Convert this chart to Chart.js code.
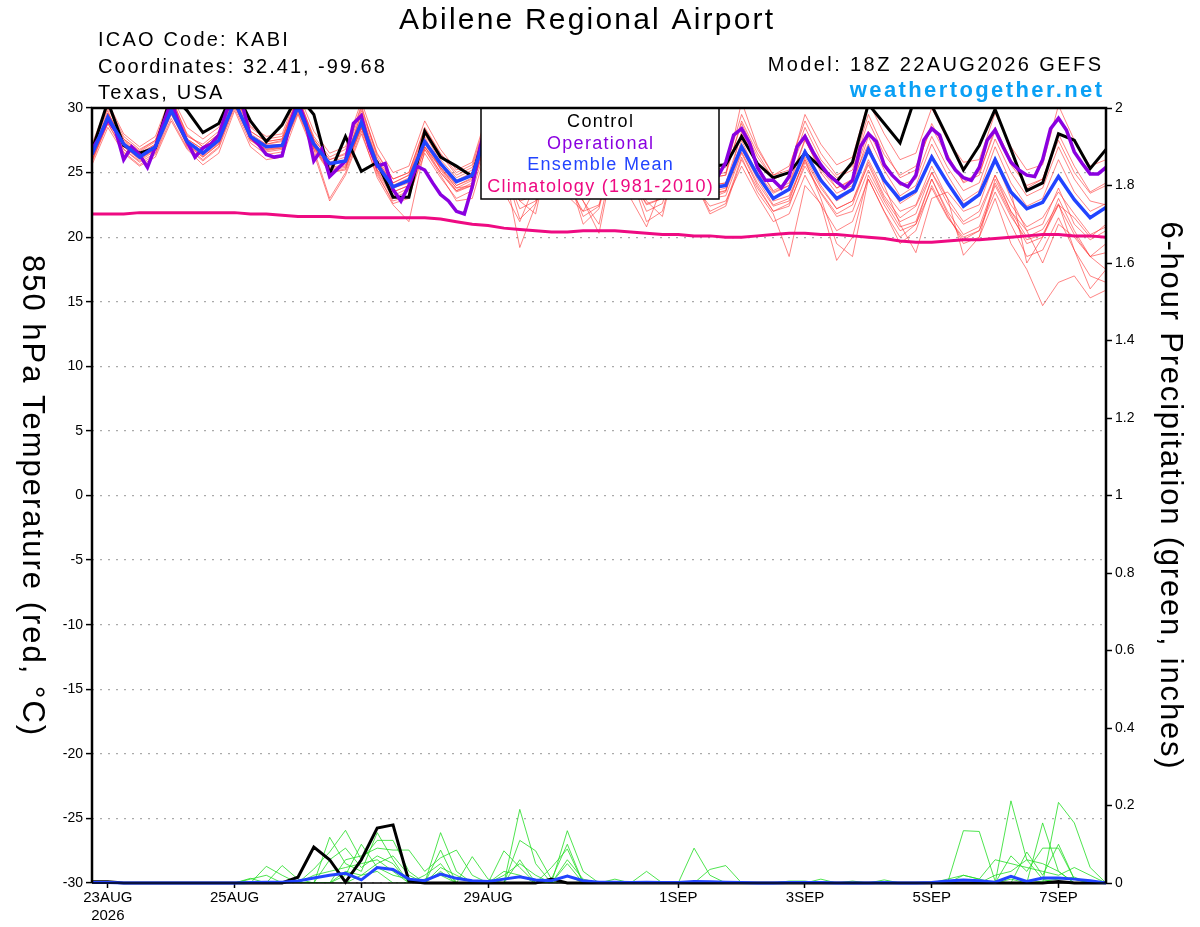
<!DOCTYPE html>
<html>
<head>
<meta charset="utf-8">
<script src="https://cdn.jsdelivr.net/npm/chart.js@4.4.1/dist/chart.umd.min.js"></script>
<style>
html,body{margin:0;padding:0;background:#fff;}
#wrap{width:1200px;height:927px;position:relative;}
</style>
</head>
<body>
<div id="wrap"><canvas id="c" width="1200" height="927"></canvas></div>
<script>
// ---- Data (6-hourly steps from 18Z 22AUG2026; index 1 = 00Z 23AUG) ----
const tickIndex = [1, 9, 17, 25, 37, 45, 53, 61];
const tickLabels = [['23AUG','2026'], '25AUG', '27AUG', '29AUG', '1SEP', '3SEP', '5SEP', '7SEP'];

const controlTemp = [26.7,30.5,27.1,26.5,26.9,31.0,29.8,28.1,28.8,31.5,29.0,27.4,28.7,31.0,29.5,24.9,27.8,25.1,25.8,23.1,23.1,28.2,26.2,25.5,24.7,29.0,27.0,25.5,25.3,28.5,26.5,25.0,25.2,28.5,26.5,25.0,25.0,28.5,26.5,25.5,25.6,27.8,25.7,24.6,25.0,26.5,25.4,24.3,25.8,30.3,28.8,27.3,31.0,30.2,27.7,25.2,27.1,29.9,26.8,23.6,24.2,28.0,27.5,25.3,26.8];

const meanTemp = [26.4,29.3,27.2,26.2,27.0,29.8,27.4,26.5,27.5,30.5,27.8,27.0,27.1,30.1,27.2,25.7,25.9,28.9,25.6,23.9,24.4,27.4,25.7,24.3,24.8,28.3,26.0,24.6,24.8,27.8,25.8,24.4,24.6,27.6,25.6,24.2,24.4,27.3,25.2,23.8,24.0,27.0,24.8,23.0,23.7,26.6,24.4,23.0,23.7,26.8,24.4,22.9,23.6,26.2,24.2,22.4,23.3,26.0,23.5,22.2,22.7,24.7,22.9,21.5,22.3];

// operational run: 3-hourly
const operTemp = [26.8,27.8,29.1,28.2,26.0,27.0,26.4,25.4,27.0,28.8,30.5,28.8,27.4,26.2,26.9,27.2,27.9,29.8,30.5,30.2,27.8,27.2,26.4,26.2,26.3,28.8,30.5,28.8,25.9,26.8,24.7,25.3,25.9,28.8,29.4,27.0,25.5,25.7,23.7,22.8,24.0,25.5,25.2,24.2,23.3,22.8,22.0,21.8,23.9,27.0,29.0,28.0,26.5,25.8,25.0,24.8,25.3,27.5,28.7,27.8,26.5,25.8,25.0,24.8,25.3,27.5,28.5,27.6,26.2,25.5,24.8,24.6,25.0,27.3,28.3,27.4,26.0,25.3,24.9,24.7,25.8,27.9,28.4,27.3,25.4,24.4,24.4,23.8,24.7,27.0,27.8,26.6,25.6,24.8,24.3,23.8,24.4,27.0,28.0,27.4,25.6,24.8,24.2,23.9,24.8,27.5,28.4,27.9,26.1,25.2,24.6,24.4,25.4,27.5,28.3,27.0,25.8,25.2,24.8,24.7,26.0,28.4,29.2,28.3,26.6,25.7,24.9,24.9,25.4];

const climTemp = [21.8,21.8,21.8,21.9,21.9,21.9,21.9,21.9,21.9,21.9,21.8,21.8,21.7,21.6,21.6,21.6,21.5,21.5,21.5,21.5,21.5,21.5,21.4,21.2,21.0,20.9,20.7,20.6,20.5,20.4,20.4,20.5,20.5,20.5,20.4,20.3,20.2,20.2,20.1,20.1,20.0,20.0,20.1,20.2,20.3,20.3,20.2,20.2,20.1,20.0,19.9,19.7,19.6,19.6,19.7,19.8,19.8,19.9,20.0,20.1,20.2,20.2,20.1,20.1,20.0];

const m01 = [27.0,30.2,27.8,26.8,27.5,30.8,28.0,27.0,28.0,31.2,28.5,27.6,27.8,30.8,27.8,26.2,26.8,30.0,26.5,24.5,25.0,28.5,26.5,25.0,25.6,29.5,27.0,25.5,25.8,29.2,26.8,25.2,25.6,29.0,26.6,25.0,25.3,28.8,26.2,24.8,25.0,28.8,26.2,24.5,25.0,28.5,26.0,24.6,25.2,29.0,26.4,24.8,25.5,28.5,26.2,24.3,25.0,28.2,25.6,24.0,24.5,27.5,25.0,23.4,24.0];
const m02 = [25.6,28.5,26.5,25.5,26.2,29.0,26.8,25.6,26.5,29.8,27.0,26.0,26.2,29.5,26.5,22.8,24.8,28.0,24.8,22.8,23.2,26.5,24.6,23.0,23.6,27.5,25.2,22.2,22.8,27.0,24.8,21.6,22.4,26.8,24.8,22.0,22.6,26.5,24.4,21.8,22.4,26.0,23.8,22.0,22.6,25.5,23.5,21.8,22.5,25.8,23.2,21.5,22.4,25.0,23.0,21.2,22.0,24.8,22.5,20.8,21.5,23.5,21.8,20.2,20.8];
const m03 = [26.0,29.0,27.5,26.5,27.2,30.5,27.6,26.8,27.8,31.0,27.5,26.8,27.0,30.5,27.5,25.5,26.0,29.5,25.8,23.5,24.0,27.8,25.2,23.6,24.2,28.0,25.5,23.8,24.0,27.2,25.0,23.6,24.0,27.5,25.2,23.5,23.8,27.0,25.0,23.4,23.6,27.5,24.8,22.8,23.2,26.0,23.0,19.5,18.5,24.5,22.0,19.5,20.5,24.0,21.6,19.8,20.5,23.5,21.0,18.5,19.0,21.5,19.0,17.0,16.5];
const m04 = [26.8,29.8,26.8,25.8,26.5,29.5,27.2,26.2,27.2,30.2,27.8,27.2,27.5,30.5,27.0,25.0,25.2,28.5,25.0,22.6,23.0,27.0,25.4,23.8,24.0,28.8,25.5,19.2,22.5,26.0,24.0,22.0,22.5,27.0,24.5,22.6,23.0,27.5,25.0,23.0,23.5,28.2,25.5,23.5,24.0,27.5,25.2,23.8,24.5,27.2,24.0,21.0,18.8,23.0,23.5,22.0,22.5,26.0,23.0,20.5,18.0,21.0,20.0,18.5,19.5];
const m05 = [26.2,29.6,27.6,26.6,27.4,30.6,27.8,27.2,28.2,31.2,28.2,27.4,27.6,31.0,27.6,26.0,26.5,30.2,26.2,24.2,24.8,28.2,26.0,24.6,25.2,29.0,26.6,25.2,25.4,28.6,26.4,25.0,25.2,28.6,26.2,24.8,25.0,28.5,26.0,24.6,24.8,30.5,27.0,24.8,25.2,29.5,27.2,25.6,26.2,30.5,28.0,26.0,26.5,30.0,27.5,25.8,26.0,29.6,27.0,25.2,25.6,30.2,27.5,25.5,26.0];
const m06 = [25.8,28.8,26.6,25.6,26.4,29.2,26.9,25.9,26.9,30.0,27.3,26.4,26.6,29.8,26.8,25.0,25.3,28.8,25.2,23.2,23.8,27.0,25.0,23.6,24.0,27.8,25.4,22.8,21.8,27.4,25.0,21.0,22.2,27.2,25.0,22.8,21.6,26.8,24.6,23.0,23.2,26.5,24.0,22.0,22.4,25.8,23.4,21.6,22.0,25.2,22.8,20.8,21.2,24.5,21.8,19.5,20.0,23.0,19.5,17.5,14.7,16.5,17.0,15.3,15.9];
const m07 = [27.2,30.4,28.0,27.0,27.8,31.0,28.5,27.6,28.5,31.5,28.6,27.8,28.0,31.2,28.2,26.5,27.0,30.5,27.0,25.0,25.5,29.0,26.8,25.2,25.8,29.8,27.2,25.5,25.6,29.5,27.2,25.6,25.8,29.6,27.0,25.5,25.8,29.4,26.8,25.2,25.4,29.5,26.8,24.8,25.5,29.0,26.5,24.8,25.5,29.5,26.8,24.6,25.2,28.8,26.4,24.2,24.8,28.5,26.0,23.8,24.5,28.0,25.5,23.5,24.2];
const m08 = [25.9,29.0,27.0,26.0,26.8,30.0,27.0,26.0,27.0,30.3,27.5,26.6,26.8,29.6,26.8,23.0,25.0,28.2,24.6,22.5,21.2,26.8,24.8,22.8,23.0,27.2,24.8,22.8,23.2,26.8,24.5,22.8,20.3,26.5,24.6,22.5,23.0,26.2,24.0,22.4,22.8,25.5,23.2,21.2,21.8,24.8,22.5,20.5,21.2,24.5,22.0,20.0,21.0,23.8,21.5,20.0,20.5,24.0,21.6,19.8,20.2,22.5,20.2,18.5,18.8];
const m09 = [26.5,29.5,27.4,26.4,27.2,30.2,27.6,26.8,27.8,30.8,28.0,27.2,27.4,30.4,27.4,25.6,26.0,29.6,26.0,24.0,24.6,28.0,25.8,24.4,25.0,28.6,26.2,24.6,24.8,28.2,26.0,24.4,24.6,28.0,25.8,24.2,24.4,27.8,25.6,24.0,24.2,28.0,25.5,23.6,24.2,27.6,25.0,23.4,24.0,27.8,25.2,23.2,24.0,27.2,24.8,22.8,23.6,27.0,24.2,22.4,23.0,26.0,23.5,22.0,22.6];
const m10 = [26.3,29.2,27.0,26.1,26.9,29.8,27.3,26.4,27.4,30.4,27.7,26.9,27.0,30.0,27.0,25.4,25.6,28.6,25.4,23.5,24.0,27.2,25.4,24.0,24.5,28.2,25.8,24.4,24.6,27.6,25.6,24.2,24.4,27.4,25.4,24.0,24.2,27.0,25.0,23.5,23.8,26.8,24.5,22.5,23.0,26.0,23.8,22.2,22.8,26.0,23.6,22.0,22.5,25.5,23.0,18.6,20.0,24.5,22.0,20.5,21.0,23.8,21.0,19.8,20.5];
const m11 = [26.6,29.6,27.3,26.3,27.1,30.1,27.5,26.6,27.6,30.6,27.9,27.1,27.2,30.2,27.3,25.8,26.2,29.2,25.9,24.2,24.8,27.6,25.6,24.0,24.6,28.4,26.2,24.8,25.0,28.0,26.0,24.6,24.8,27.8,25.8,24.4,24.6,27.6,25.4,24.0,24.2,27.2,25.0,23.4,24.0,26.8,24.6,22.8,23.6,27.0,24.6,22.6,23.4,26.4,24.2,22.6,23.2,26.2,23.6,18.0,20.0,22.5,21.5,20.0,21.0];
const m12 = [26.0,28.8,26.8,25.9,26.7,29.6,27.1,26.2,27.2,30.2,27.6,26.7,26.9,29.9,26.9,25.2,25.4,28.4,25.1,23.0,23.6,26.8,25.0,23.5,24.0,27.8,25.5,21.4,22.6,27.0,25.2,22.8,21.0,26.8,24.8,21.2,22.0,26.6,24.5,22.0,22.6,26.2,23.5,21.8,18.5,24.0,22.6,18.2,20.0,24.8,22.5,20.5,21.0,24.5,22.0,20.2,20.8,24.2,21.8,19.5,20.0,23.0,20.5,18.5,17.5];
const m13 = [27.0,30.0,27.6,26.7,27.5,30.8,27.9,27.0,28.0,31.0,28.2,27.4,27.6,30.7,27.6,26.0,26.4,29.8,26.4,24.5,25.0,28.4,26.4,24.8,25.4,29.2,26.8,25.0,25.4,29.0,26.8,25.2,25.4,28.8,26.4,25.0,25.2,28.6,26.2,24.6,24.8,29.0,26.5,24.5,25.0,28.0,25.6,23.8,24.4,28.2,25.8,24.0,24.5,27.8,25.4,23.6,24.2,27.6,25.0,23.2,23.8,27.0,24.5,22.8,22.5];
const m14 = [26.2,29.0,27.1,26.1,26.8,29.7,27.2,26.3,27.3,30.3,27.6,26.8,26.9,29.8,27.0,25.3,25.5,28.5,25.2,23.8,24.2,27.0,25.3,23.8,24.4,27.8,23.5,21.2,24.2,27.2,23.2,22.0,24.2,27.2,23.0,20.8,24.0,26.8,24.8,23.2,23.6,26.6,24.2,22.4,22.8,26.2,24.0,22.2,22.8,25.6,23.0,21.2,21.8,25.0,22.6,21.0,21.6,24.8,22.0,20.0,20.6,22.6,19.0,16.0,17.5];

const controlPrecip = [0.003,0.003,0,0,0,0,0,0,0,0,0,0,0,0.015,0.093,0.06,0.002,0.06,0.142,0.15,0.005,0,0,0,0,0,0,0,0,0.01,0,0,0,0,0,0,0,0,0,0,0,0,0,0,0,0,0,0,0,0,0,0,0,0,0,0,0,0,0,0,0,0.004,0,0,0];
const meanPrecip = [0.001,0.001,0,0,0,0,0,0,0,0,0.001,0.002,0.002,0.005,0.013,0.02,0.025,0.008,0.04,0.035,0.01,0.006,0.023,0.012,0.006,0.004,0.01,0.016,0.008,0.006,0.018,0.006,0.002,0.002,0.001,0.002,0.001,0.001,0.004,0.003,0.002,0.001,0,0,0.001,0.001,0.001,0,0,0,0.001,0,0,0.001,0.005,0.008,0.006,0.002,0.017,0.004,0.013,0.013,0.01,0.006,0];

const g01 = [0,0,0,0,0,0,0,0,0,0,0,0.043,0.02,0,0,0.118,0.05,0.03,0.13,0.06,0,0,0.13,0.03,0,0,0,0.19,0.05,0,0.02,0,0,0,0,0,0,0,0,0,0,0,0,0,0,0,0,0,0,0,0,0,0,0,0,0,0,0,0.212,0.06,0.01,0,0,0,0];
const g02 = [0,0,0,0,0,0,0,0,0,0,0.012,0,0,0,0.036,0.08,0.136,0.06,0.11,0.11,0.03,0,0.085,0,0,0,0.083,0.04,0,0,0.135,0.03,0,0,0,0,0,0,0.09,0.02,0,0,0,0,0,0,0,0,0,0,0,0,0,0,0,0.135,0.133,0.005,0,0,0,0.208,0.155,0.04,0];
const g03 = [0,0,0,0,0,0,0,0,0,0,0,0,0.045,0.01,0,0,0.06,0.07,0.09,0.085,0.085,0.03,0.065,0.085,0.02,0,0,0.11,0.083,0.01,0.1,0,0,0,0,0,0,0,0,0.035,0.045,0,0,0,0,0,0,0,0,0,0,0,0,0,0,0,0,0,0,0,0.155,0.03,0,0,0];
const g04 = [0,0,0,0,0,0,0,0,0,0,0,0,0,0,0,0.06,0.09,0.04,0.07,0.05,0,0.02,0.05,0,0.068,0.01,0,0.06,0,0.04,0.088,0,0,0,0,0.03,0,0,0,0,0,0,0,0,0,0,0,0,0,0,0,0,0,0,0,0,0,0,0.07,0.03,0.09,0.09,0.01,0,0];
const g05 = [0,0,0,0,0,0,0,0,0,0,0,0,0,0,0.02,0.03,0.04,0.05,0.06,0.03,0,0,0.04,0.02,0,0,0.03,0.02,0,0,0.05,0,0,0,0,0,0,0,0,0,0,0,0,0,0,0,0,0,0,0,0,0,0,0,0.01,0.02,0.01,0.06,0.05,0.04,0.03,0.02,0.04,0.02,0];
const g06 = [0,0,0,0,0,0,0,0,0,0,0,0,0,0,0,0,0.02,0.1,0.04,0.02,0.01,0,0.03,0,0,0,0,0,0,0,0.06,0.01,0,0.01,0,0,0,0,0,0,0,0,0,0,0,0,0.01,0,0,0,0.008,0,0,0,0,0,0,0,0,0.08,0.02,0.1,0.01,0,0];
const g07 = [0,0,0,0,0,0,0,0,0,0,0.01,0.02,0,0,0,0,0,0.02,0.05,0.07,0.02,0,0,0,0,0,0.02,0.05,0.02,0,0,0,0,0,0,0,0,0,0,0,0,0,0,0,0,0,0,0,0,0,0,0,0,0,0,0,0,0.02,0.03,0.06,0.05,0.03,0,0,0];
const g08 = [0,0,0,0,0,0,0,0,0,0,0,0,0,0,0,0,0.03,0.02,0.03,0,0,0.01,0.02,0,0,0,0,0,0,0,0,0,0,0,0,0,0,0,0,0,0,0,0,0,0.005,0.005,0,0,0.005,0,0,0,0,0,0,0.02,0.01,0,0.01,0,0.005,0.01,0.015,0,0];

const tempMembers = [m01,m02,m03,m04,m05,m06,m07,m08,m09,m10,m11,m12,m13,m14];
const precipMembers = [g01,g02,g03,g04,g05,g06,g07,g08];

// ---- Build chart ----
const FONT = '"Liberation Sans", Arial, Helvetica, sans-serif';
const toXY = (arr, step) => arr.map((v, i) => ({x: i * step, y: v}));

const datasets = [];
datasets.push({data: toXY(meanTemp,1), yAxisID:'y', borderColor:'#2244ff', borderWidth:3.5, order:0, clip:0});
datasets.push({data: toXY(operTemp,0.5), yAxisID:'y', borderColor:'#8a00e0', borderWidth:3.5, order:1, clip:0});
datasets.push({data: toXY(controlTemp,1), yAxisID:'y', borderColor:'#000000', borderWidth:3, order:2, clip:0});
datasets.push({data: toXY(climTemp,1), yAxisID:'y', borderColor:'#ee0a82', borderWidth:3, order:3, clip:0});
datasets.push({data: toXY(meanPrecip,1), yAxisID:'y1', borderColor:'#2244ff', borderWidth:3, order:4, clip:{left:0,right:0,top:0,bottom:3}});
datasets.push({data: toXY(controlPrecip,1), yAxisID:'y1', borderColor:'#000000', borderWidth:3, order:5, clip:{left:0,right:0,top:0,bottom:3}});
tempMembers.forEach(m => datasets.push({data: toXY(m,1), yAxisID:'y', borderColor:'rgba(255,50,50,0.75)', borderWidth:0.8, order:10, clip:0}));
precipMembers.forEach(g => datasets.push({data: toXY(g,1), yAxisID:'y1', borderColor:'#22dd22', borderWidth:0.8, order:9, clip:0}));
datasets.forEach(d => { d.pointRadius = 0; d.tension = 0; d.fill = false; });

function spaced(ctx, text, x, y, sp) {
  ctx.letterSpacing = sp + 'px';
  const align = ctx.textAlign;
  // compensate trailing spacing so alignment matches
  let dx = 0;
  if (align === 'center') dx = sp / 2;
  else if (align === 'right') dx = sp;
  ctx.fillText(text, x + dx, y);
  ctx.letterSpacing = '0px';
}

const decor = {
  id: 'decor',
  afterDatasetsDraw(chart) {
    const ctx = chart.ctx, a = chart.chartArea;
    ctx.save();
    // legend box
    ctx.fillStyle = '#fff';
    ctx.fillRect(481, a.top, 238, 91);
    ctx.strokeStyle = '#000'; ctx.lineWidth = 1.5;
    ctx.strokeRect(481, a.top, 238, 91);
    ctx.font = '18px ' + FONT; ctx.textAlign = 'center'; ctx.textBaseline = 'alphabetic';
    const leg = [['Control','#000'],['Operational','#8a00e0'],['Ensemble Mean','#2244ff'],['Climatology (1981-2010)','#ee0a82']];
    leg.forEach((l, i) => { ctx.fillStyle = l[1]; spaced(ctx, l[0], 600, 127 + i * 21.5, 1.3); });
    // frame
    ctx.strokeStyle = '#000'; ctx.lineWidth = 2.5;
    ctx.beginPath();
    ctx.moveTo(a.left, a.bottom); ctx.lineTo(a.left, a.top); ctx.lineTo(a.right, a.top); ctx.lineTo(a.right, a.bottom);
    ctx.stroke();
    ctx.lineWidth = 1.5;
    ctx.beginPath(); ctx.moveTo(a.left, a.bottom); ctx.lineTo(a.right, a.bottom); ctx.stroke();
    ctx.restore();
  },
  afterDraw(chart) {
    const ctx = chart.ctx;
    ctx.save();
    ctx.fillStyle = '#000';
    ctx.textBaseline = 'alphabetic';
    ctx.font = '30px ' + FONT; ctx.textAlign = 'center';
    spaced(ctx, 'Abilene Regional Airport', 586, 29, 2.2);
    ctx.font = '20px ' + FONT; ctx.textAlign = 'left';
    spaced(ctx, 'ICAO Code: KABI', 98, 46, 2.2);
    spaced(ctx, 'Coordinates: 32.41, -99.68', 98, 73, 2.0);
    spaced(ctx, 'Texas, USA', 98, 99, 2.2);
    ctx.textAlign = 'right';
    spaced(ctx, 'Model: 18Z 22AUG2026 GEFS', 1101, 71, 2.4);
    ctx.font = 'bold 22px ' + FONT; ctx.fillStyle = '#0aa0f5';
    spaced(ctx, 'weathertogether.net', 1102, 97, 2.4);
    // axis titles
    ctx.fillStyle = '#000';
    ctx.font = '31px ' + FONT; ctx.textAlign = 'center'; ctx.textBaseline = 'middle';
    ctx.save(); ctx.translate(32, 495); ctx.rotate(Math.PI / 2);
    spaced(ctx, '850 hPa Temperature (red, \u00B0C)', 0, 0, 2.0); ctx.restore();
    ctx.save(); ctx.translate(1170, 495); ctx.rotate(Math.PI / 2);
    spaced(ctx, '6-hour Precipitation (green, inches)', 0, 0, 1.8); ctx.restore();
    ctx.restore();
  }
};

new Chart(document.getElementById('c'), {
  type: 'line',
  data: { datasets },
  options: {
    responsive: false, animation: false, devicePixelRatio: 1,
    layout: { padding: { top: 108, left: 0, right: 0, bottom: 0 } },
    plugins: { legend: { display: false }, tooltip: { enabled: false }, title: { display: false } },
    scales: {
      x: {
        type: 'linear', min: 0, max: 64,
        afterBuildTicks: s => { s.ticks = tickIndex.map(v => ({ value: v })); },
        afterFit: s => { s.height = 44; },
        ticks: {
          autoSkip: false, maxRotation: 0, color: '#000', padding: 1,
          font: { family: FONT, size: 15 },
          callback: v => { const k = tickIndex.indexOf(v); return k >= 0 ? tickLabels[k] : ''; }
        },
        grid: { drawOnChartArea: false, drawTicks: true, tickLength: 5, tickColor: '#000', tickWidth: 1.5 },
        border: { display: false }
      },
      y: {
        position: 'left', min: -30, max: 30,
        afterBuildTicks: s => { const t = []; for (let v = -30; v <= 30; v += 5) t.push({ value: v }); s.ticks = t; },
        afterFit: s => { s.width = 92; },
        ticks: { color: '#000', padding: 3, font: { family: FONT, size: 14 } },
        grid: { color: '#aaaaaa', lineWidth: 1.2, drawTicks: true, tickLength: 6, tickColor: '#000', tickWidth: 1.5, tickBorderDash: [] },
        border: { display: false, dash: [2, 6] }
      },
      y1: {
        position: 'right', min: 0, max: 2,
        afterBuildTicks: s => { const t = []; for (let k = 0; k <= 10; k++) t.push({ value: k / 5 }); s.ticks = t; },
        afterFit: s => { s.width = 94; },
        ticks: { color: '#000', padding: 3, font: { family: FONT, size: 14 },
          callback: v => String(Math.round(v * 10) / 10) },
        grid: { drawOnChartArea: false, drawTicks: true, tickLength: 6, tickColor: '#000', tickWidth: 1.5 },
        border: { display: false }
      }
    }
  },
  plugins: [decor]
});
</script>
</body>
</html>
